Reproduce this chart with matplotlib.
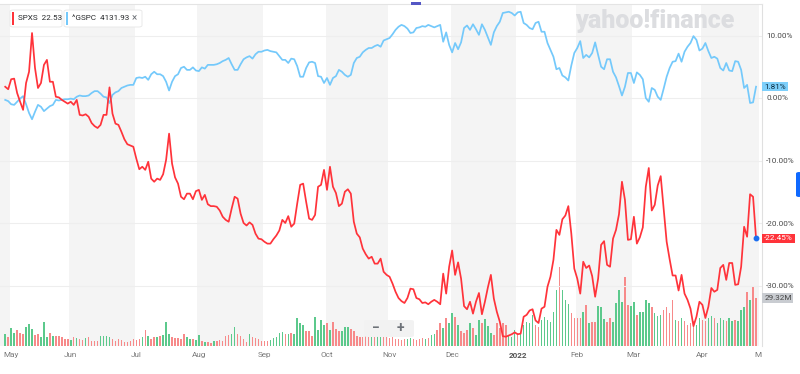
import numpy as np
import pandas as pd
import matplotlib
matplotlib.use("Agg")
import matplotlib.pyplot as plt
from matplotlib.patches import FancyBboxPatch, Rectangle
from matplotlib.transforms import blended_transform_factory, Bbox, TransformedBbox

plt.rcParams['font.family'] = ['Roboto', 'DejaVu Sans']

# ---- data: trading days 29 Apr 2021 .. 28 Apr 2022 ----
holidays = ['2021-05-31', '2021-07-05', '2021-09-06', '2021-11-25',
            '2021-12-24', '2022-01-17', '2022-02-21', '2022-04-15']
days = pd.bdate_range('2021-04-29', '2022-04-28')
days = days[~days.isin(pd.to_datetime(holidays))]

# SPXS, % change since start
spxs_pct = [
    1.8, 1.4, 3.0, 3.1, 0.8, -0.6, -1.9, 2.4, 4.2, 10.4, 4.8, 1.6, 2.4, 5.3, 6.1, 2.6, 2.6, 0.2, 0.1, -0.3,
    -0.6, -0.9, -0.6, -1.1, -0.3, -2.7, -2.8, -2.6, -3.0, -4.0, -4.5, -4.8, -4.3, -2.7, -2.7, 1.7, -2.5, -4.1,
    -4.3, -5.4, -6.6, -7.4, -7.6,
    -7.8, -9.7, -11.4, -11.0, -11.5, -10.2, -12.9, -13.4, -12.9, -13.1, -12.2, -9.9, -5.7, -10.5, -12.7, -13.7,
    -15.8, -16.2, -15.3, -15.3, -16.2, -14.9, -14.7, -16.3, -15.5, -17.0, -17.3, -17.3, -17.4, -18.0, -19.0,
    -19.5, -19.8, -17.7, -15.8, -16.1, -18.5, -20.0, -20.4, -19.9, -20.3, -21.7, -22.5,
    -22.6, -23.0, -23.3, -23.3, -22.6, -22.0, -21.2, -19.5, -20.0, -18.9, -20.6, -20.1, -16.9, -13.9, -13.7,
    -16.6, -19.3, -19.5, -18.7, -14.2, -13.9, -11.5, -14.7, -11.0, -14.2, -15.2, -17.3, -16.9, -15.0, -14.6,
    -15.3, -19.8, -21.7, -22.3, -24.1, -25.0, -25.7, -25.4, -26.5, -26.5, -25.7, -27.8, -28.3, -28.6,
    -29.7, -31.0, -32.0, -32.5, -32.8, -32.0, -30.5, -30.6, -32.0, -32.2, -32.8, -32.7, -33.0, -32.6, -32.3,
    -32.6, -33.0, -28.1, -31.3, -27.0, -24.4, -28.3, -26.3, -28.9, -33.3, -33.8, -32.6, -34.5, -32.6, -31.2,
    -34.6, -32.6, -30.3, -28.3, -32.1, -34.2, -35.8, -38.1, -38.2, -38.0, -37.8, -37.5, -37.8,
    -37.7, -35.0, -34.7, -34.0, -33.8, -35.6, -36.0, -33.7, -33.4, -30.2, -28.6, -25.9, -21.1, -21.9, -19.4,
    -18.8, -17.3, -21.7, -27.3, -28.9, -31.3, -26.2, -27.2, -26.8, -28.5, -31.8, -28.9, -23.5, -22.9, -26.7,
    -27.0, -22.5, -21.1, -18.6, -13.4, -16.3, -22.7, -22.6, -19.0, -23.3, -22.3, -20.7, -14.2,
    -11.2, -18.0, -17.1, -14.0, -12.5, -17.8, -23.0, -25.8, -28.4, -28.4, -30.8, -28.3, -31.3, -32.3, -33.7,
    -36.5, -35.0, -32.6, -33.1, -35.2, -33.4, -30.4, -31.0, -30.7, -27.2, -26.7, -29.1, -26.4, -26.4, -29.9,
    -29.8, -27.0, -20.6, -22.2, -15.4, -15.8, -22.45,
]

# ^GSPC, % change since start
gspc_pct = [
    -0.3, -0.5, -1.0, -1.1, -0.6, -0.1, 0.3, -1.0, -2.4, -3.4, -2.2, -1.1, -1.4, -2.1, -1.7, -1.3, -1.1, -0.3,
    -0.4, -0.3, -0.2, -0.2, -0.1, -0.2, 0.2, 0.4, 0.3, 0.3, 0.4, 0.8, 1.1, 1.1, 0.7, 0.2, 0.1, -0.8, 0.5, 0.9,
    1.1, 1.6, 1.8, 2.0, 2.1,
    2.1, 3.2, 3.3, 3.2, 3.4, 2.9, 3.8, 4.2, 3.8, 3.8, 3.5, 2.6, 1.2, 2.6, 3.5, 3.8, 4.8, 5.0, 4.5, 4.5, 4.9,
    4.4, 4.3, 4.9, 4.7, 5.3, 5.3, 5.3, 5.4, 5.6, 5.9, 6.1, 6.4, 5.4, 4.5, 4.5, 5.4, 6.2, 6.5, 6.7, 6.3, 7.0, 7.4,
    7.4, 7.6, 7.7, 7.5, 7.4, 7.3, 6.7, 6.1, 6.1, 5.6, 6.3, 6.2, 5.1, 3.4, 3.4, 4.8, 5.7, 5.8, 5.6, 3.5, 3.4,
    2.4, 3.2, 2.1, 3.2, 3.5, 4.5, 4.2, 3.7, 3.4, 3.7, 5.6, 6.4, 6.6, 7.3, 7.7, 8.0, 8.0, 8.3, 8.5, 8.2, 9.2,
    9.4, 9.6,
    10.2, 10.9, 11.4, 11.7, 11.5, 11.1, 10.4, 10.5, 11.2, 11.3, 11.5, 11.4, 11.7, 11.5, 11.3, 11.5, 11.7, 9.0,
    10.5, 8.5, 7.3, 8.8, 7.8, 8.9, 11.2, 11.6, 10.9, 11.8, 11.0, 10.1, 11.8, 10.9, 9.7, 8.5, 10.5, 11.5, 12.2,
    13.6, 13.7, 13.8, 13.6, 13.2, 13.7,
    13.8, 12.0, 11.7, 11.2, 11.0, 12.0, 12.2, 10.6, 10.6, 8.8, 7.7, 6.6, 4.6, 4.8, 3.6, 3.3, 2.8, 5.2, 7.2,
    8.0, 9.1, 6.4, 6.9, 6.5, 7.2, 8.9, 6.9, 5.0, 4.6, 6.2, 6.2, 4.2, 3.3, 1.9, 0.4, 1.8, 4.0, 4.0, 2.4, 4.1,
    3.7, 3.0, 0.0, -0.6,
    1.6, 1.3, 0.2, -0.3, 1.5, 3.4, 4.8, 5.8, 5.9, 7.1, 5.8, 7.4, 8.2, 8.8, 9.9, 9.3, 7.6, 7.9, 8.8, 7.5, 6.4,
    6.6, 6.3, 4.8, 4.4, 5.6, 4.4, 4.3, 5.9, 5.8, 4.5, 1.6, 2.1, -0.8, -0.7, 1.81,
]

# SPXS volume, millions
volume_m = [
    7.3, 5.7, 10.8, 8.1, 9.8, 8.1, 7.3, 11.8, 13.4, 10.2, 6.7, 7.3, 5.7, 14.8, 5.7, 7.7, 6.1, 6.1, 6.1, 5.7,
    4.1, 4.1, 3.7, 5.7, 4.7, 4.1, 3.7, 4.7, 5.3, 3.3, 3.3, 3.3, 6.1, 6.1, 6.1, 5.3, 4.1, 3.3, 4.1, 3.7, 2.7,
    2.7, 3.3, 4.1, 3.7, 4.5, 5.7, 9.8, 6.1, 4.1, 5.3, 5.3, 6.1, 6.5, 14.6, 7.3, 5.7, 4.9, 4.9, 4.1, 7.3, 5.7,
    4.5, 4.1, 3.7, 6.5, 3.3, 2.7, 2.7, 2.0, 3.3, 3.3, 3.7, 3.3, 6.1, 6.9, 7.3, 11.8, 7.3, 6.1, 4.1, 2.7, 7.3,
    5.7, 4.9, 4.5, 3.3, 3.3, 3.3, 3.7, 4.9, 5.7, 7.7, 8.7, 7.3, 7.3, 7.7, 7.3, 16.9, 13.8, 12.8, 9.4, 9.4, 6.1,
    17.5, 9.8, 15.9, 12.8, 13.8, 9.8, 14.8, 10.2, 9.4, 9.4, 11.4, 11.4, 10.2, 9.4, 6.1,
    5.7, 5.3, 6.1, 5.7, 5.3, 5.7, 6.1, 5.3, 5.7, 5.3, 4.9, 5.3, 4.1, 4.5, 3.7, 4.5, 4.1, 4.9, 4.5, 3.7, 4.5,
    4.9, 4.1, 4.9, 6.5, 7.3,
    9.8, 13.8, 10.8, 16.9, 13.8, 20.0, 17.5, 12.8, 9.4, 7.7, 9.8, 13.8, 10.8, 6.7, 15.9, 14.2, 16.3, 12.2, 8.1,
    6.7, 13.8, 10.8, 13.8, 12.8, 6.1, 5.3, 9.8, 8.1,
    8.0, 12.8, 14.8, 14.0, 18.9, 12.8, 11.6, 15.9, 17.7, 15.9, 14.8, 20.7, 34.2, 48.2, 34.2, 28.1, 25.6, 20.1,
    17.1, 17.1, 17.1, 20.7, 25.0, 14.0, 14.8, 14.8, 24.4, 23.8, 16.5, 14.8, 17.1, 14.8, 26.2, 34.2, 26.8, 42.1,
    25.0, 24.4, 26.8, 18.9, 20.7, 20.7, 28.1,
    26, 24, 20, 18, 19, 22, 24, 20, 28, 16, 15, 17, 15, 13, 14, 15, 13, 17, 16, 15, 17, 18, 17, 14, 17, 16,
    15, 17, 15, 16, 15, 22, 24, 33, 28, 36, 29.32,
]

assert len(days) == len(spxs_pct) == len(gspc_pct) == len(volume_m)

RED = '#ff333a'
BLUE = '#74c9fb'

x = np.arange(len(days))
month_idx = [0] + [i for i in range(1, len(days)) if days[i].month != days[i - 1].month]
month_idx = month_idx[1:]          # first trading day of May 2021 ... Apr 2022
next_may = len(days) + 1           # 2 May 2022, just off the data
tick_pos = month_idx + [next_may]
tick_lab = []
for i in month_idx:
    d = days[i]
    tick_lab.append('2022' if d.month == 1 else d.strftime('%b'))
tick_lab.append('May')

W, H = 800, 374
fig = plt.figure(figsize=(W / 100, H / 100), dpi=100)
fig.patch.set_facecolor('white')

def fx(px):
    return px / W

def fy(py):
    return 1 - py / H

rect = [0, fy(346), fx(762), (346 - 4) / H]
ax_vol = fig.add_axes(rect)
ax = fig.add_axes(rect, sharex=ax_vol)
ax.patch.set_alpha(0)

XMIN, XMAX = -1.75, 253.1
ax.set_xlim(XMIN, XMAX)

# alternating month shading
edges = [XMIN] + [i - 0.5 for i in month_idx] + [XMAX]
for k in range(len(edges) - 1):
    if k % 2 == 0:
        ax_vol.axvspan(edges[k], edges[k + 1], color='#f4f4f4', lw=0, zorder=0)

# volume bars
chg = np.diff(np.array(spxs_pct), prepend=spxs_pct[0] - 0.1)
vcol = ['#5cc98c' if c >= 0 else '#f78a8a' for c in chg]
ax_vol.bar(x, volume_m, width=0.5, color=vcol, lw=0, zorder=2)
ax_vol.set_ylim(0, 342 * 0.61)
ax_vol.set_yticks([])
for s in ax_vol.spines.values():
    s.set_visible(False)
ax_vol.tick_params(axis='x', length=0, labelbottom=False)

# percent lines
ax.plot(x, gspc_pct, color=BLUE, lw=1.25, zorder=3)
ax.plot(x, spxs_pct, color=RED, lw=1.25, zorder=4)
ax.plot(x[-1], spxs_pct[-1], 'o', ms=3.2, color='#1a6ef0', zorder=5)

ax.set_ylim((98 - 346) / 6.25, (98 - 4) / 6.25)
yt = [-30, -20, -10, 0, 10]
ax.set_yticks(yt)
ax.set_yticklabels(['%.2f%%' % v for v in yt])
ax.yaxis.tick_right()
ax.grid(axis='y', color='#eeeeee', lw=0.8, zorder=1)
ax.tick_params(axis='y', length=0, pad=3, labelsize=5.9, labelcolor='#4a4a4a')

ax.set_xticks(tick_pos)
ax.set_xticklabels(tick_lab)
ax.tick_params(axis='x', length=0, pad=4.5, labelsize=5.9, labelcolor='#7a7a7a')
clip = TransformedBbox(Bbox([[0, 0], [fx(762), 1]]), fig.transFigure)
for lab in ax.get_xticklabels():
    lab.set_clip_box(clip)
    lab.set_clip_on(True)
    if lab.get_text() == '2022':
        lab.set_fontweight('bold')
        lab.set_color('#555555')

for side in ['left', 'bottom']:
    ax.spines[side].set_visible(False)
ax.spines['top'].set_color('#e4e4e4')
ax.spines['top'].set_linewidth(0.8)
ax.spines['right'].set_color('#e0e0e0')
ax.spines['right'].set_linewidth(0.8)

# last value tags
tr = blended_transform_factory(ax.transAxes, ax.transData)
trv = blended_transform_factory(ax.transAxes, ax_vol.transData)
ax.annotate('%.2f%%' % gspc_pct[-1], xy=(1, gspc_pct[-1]), xycoords=tr, xytext=(1.6, 0),
            textcoords='offset points', ha='left', va='center', fontsize=5.9, color='#0b2c40',
            bbox=dict(boxstyle='square,pad=0.22', fc='#7dcffb', ec='none'), zorder=6)
ax.annotate('%.2f%%' % spxs_pct[-1], xy=(1, spxs_pct[-1]), xycoords=tr, xytext=(1.6, 0),
            textcoords='offset points', ha='left', va='center', fontsize=5.9, color='white',
            bbox=dict(boxstyle='square,pad=0.22', fc=RED, ec='none'), zorder=6)
ax.annotate('%.2fM' % volume_m[-1], xy=(1, volume_m[-1]), xycoords=trv, xytext=(1.6, 0),
            textcoords='offset points', ha='left', va='center', fontsize=5.9, color='#464646',
            bbox=dict(boxstyle='square,pad=0.22', fc='#c9ccd1', ec='none'), zorder=6)

# watermark
fig.text(fx(575), fy(21), 'yahoo!finance', ha='left', va='center', fontsize=18,
         fontweight='heavy', color='#dcdde0')

# legend chips
def chip(x0, x1, color, label, close=False):
    box = FancyBboxPatch((fx(x0), fy(27)), fx(x1 - x0), (27 - 10) / H,
                         boxstyle='round,pad=0,rounding_size=0.004', transform=fig.transFigure,
                         fc='white', ec='#e6e6e6', lw=0.6, zorder=10)
    fig.patches.append(box)
    fig.patches.append(Rectangle((fx(x0 + 1.6), fy(25)), fx(2.4), 13 / H, transform=fig.transFigure,
                                 fc=color, ec='none', zorder=11))
    fig.text(fx(x0 + 7.5), fy(18.5), label, ha='left', va='center', fontsize=5.9,
             color='#26282a', zorder=12)
    if close:
        fig.text(fx(x1 - 8), fy(18.5), '\u00d7', ha='center', va='center', fontsize=7,
                 color='#6b6f75', zorder=12)

chip(10, 62, RED, 'SPXS  22.53')
chip(64, 142, BLUE, '^GSPC  4131.93', close=True)

# zoom buttons
fig.patches.append(FancyBboxPatch((fx(364), fy(337)), fx(50), 17 / H,
                                  boxstyle='round,pad=0,rounding_size=0.004', transform=fig.transFigure,
                                  fc='#f2f2f2', ec='none', alpha=0.95, zorder=10))
fig.text(fx(375.5), fy(328), '\u2212', ha='center', va='center', fontsize=10,
         fontweight='bold', color='#6d7278', zorder=11)
fig.text(fx(400.5), fy(328), '+', ha='center', va='center', fontsize=10,
         fontweight='bold', color='#6d7278', zorder=11)

# small UI marks
fig.patches.append(Rectangle((fx(411), fy(4.5)), fx(10), 2.5 / H, transform=fig.transFigure,
                             fc='#5457c4', ec='none', zorder=10))
fig.patches.append(FancyBboxPatch((fx(796), fy(197)), fx(6), 25 / H,
                                  boxstyle='round,pad=0,rounding_size=0.004', transform=fig.transFigure,
                                  fc='#0f69ff', ec='none', zorder=10))

fig.savefig('out.png', dpi=100)
